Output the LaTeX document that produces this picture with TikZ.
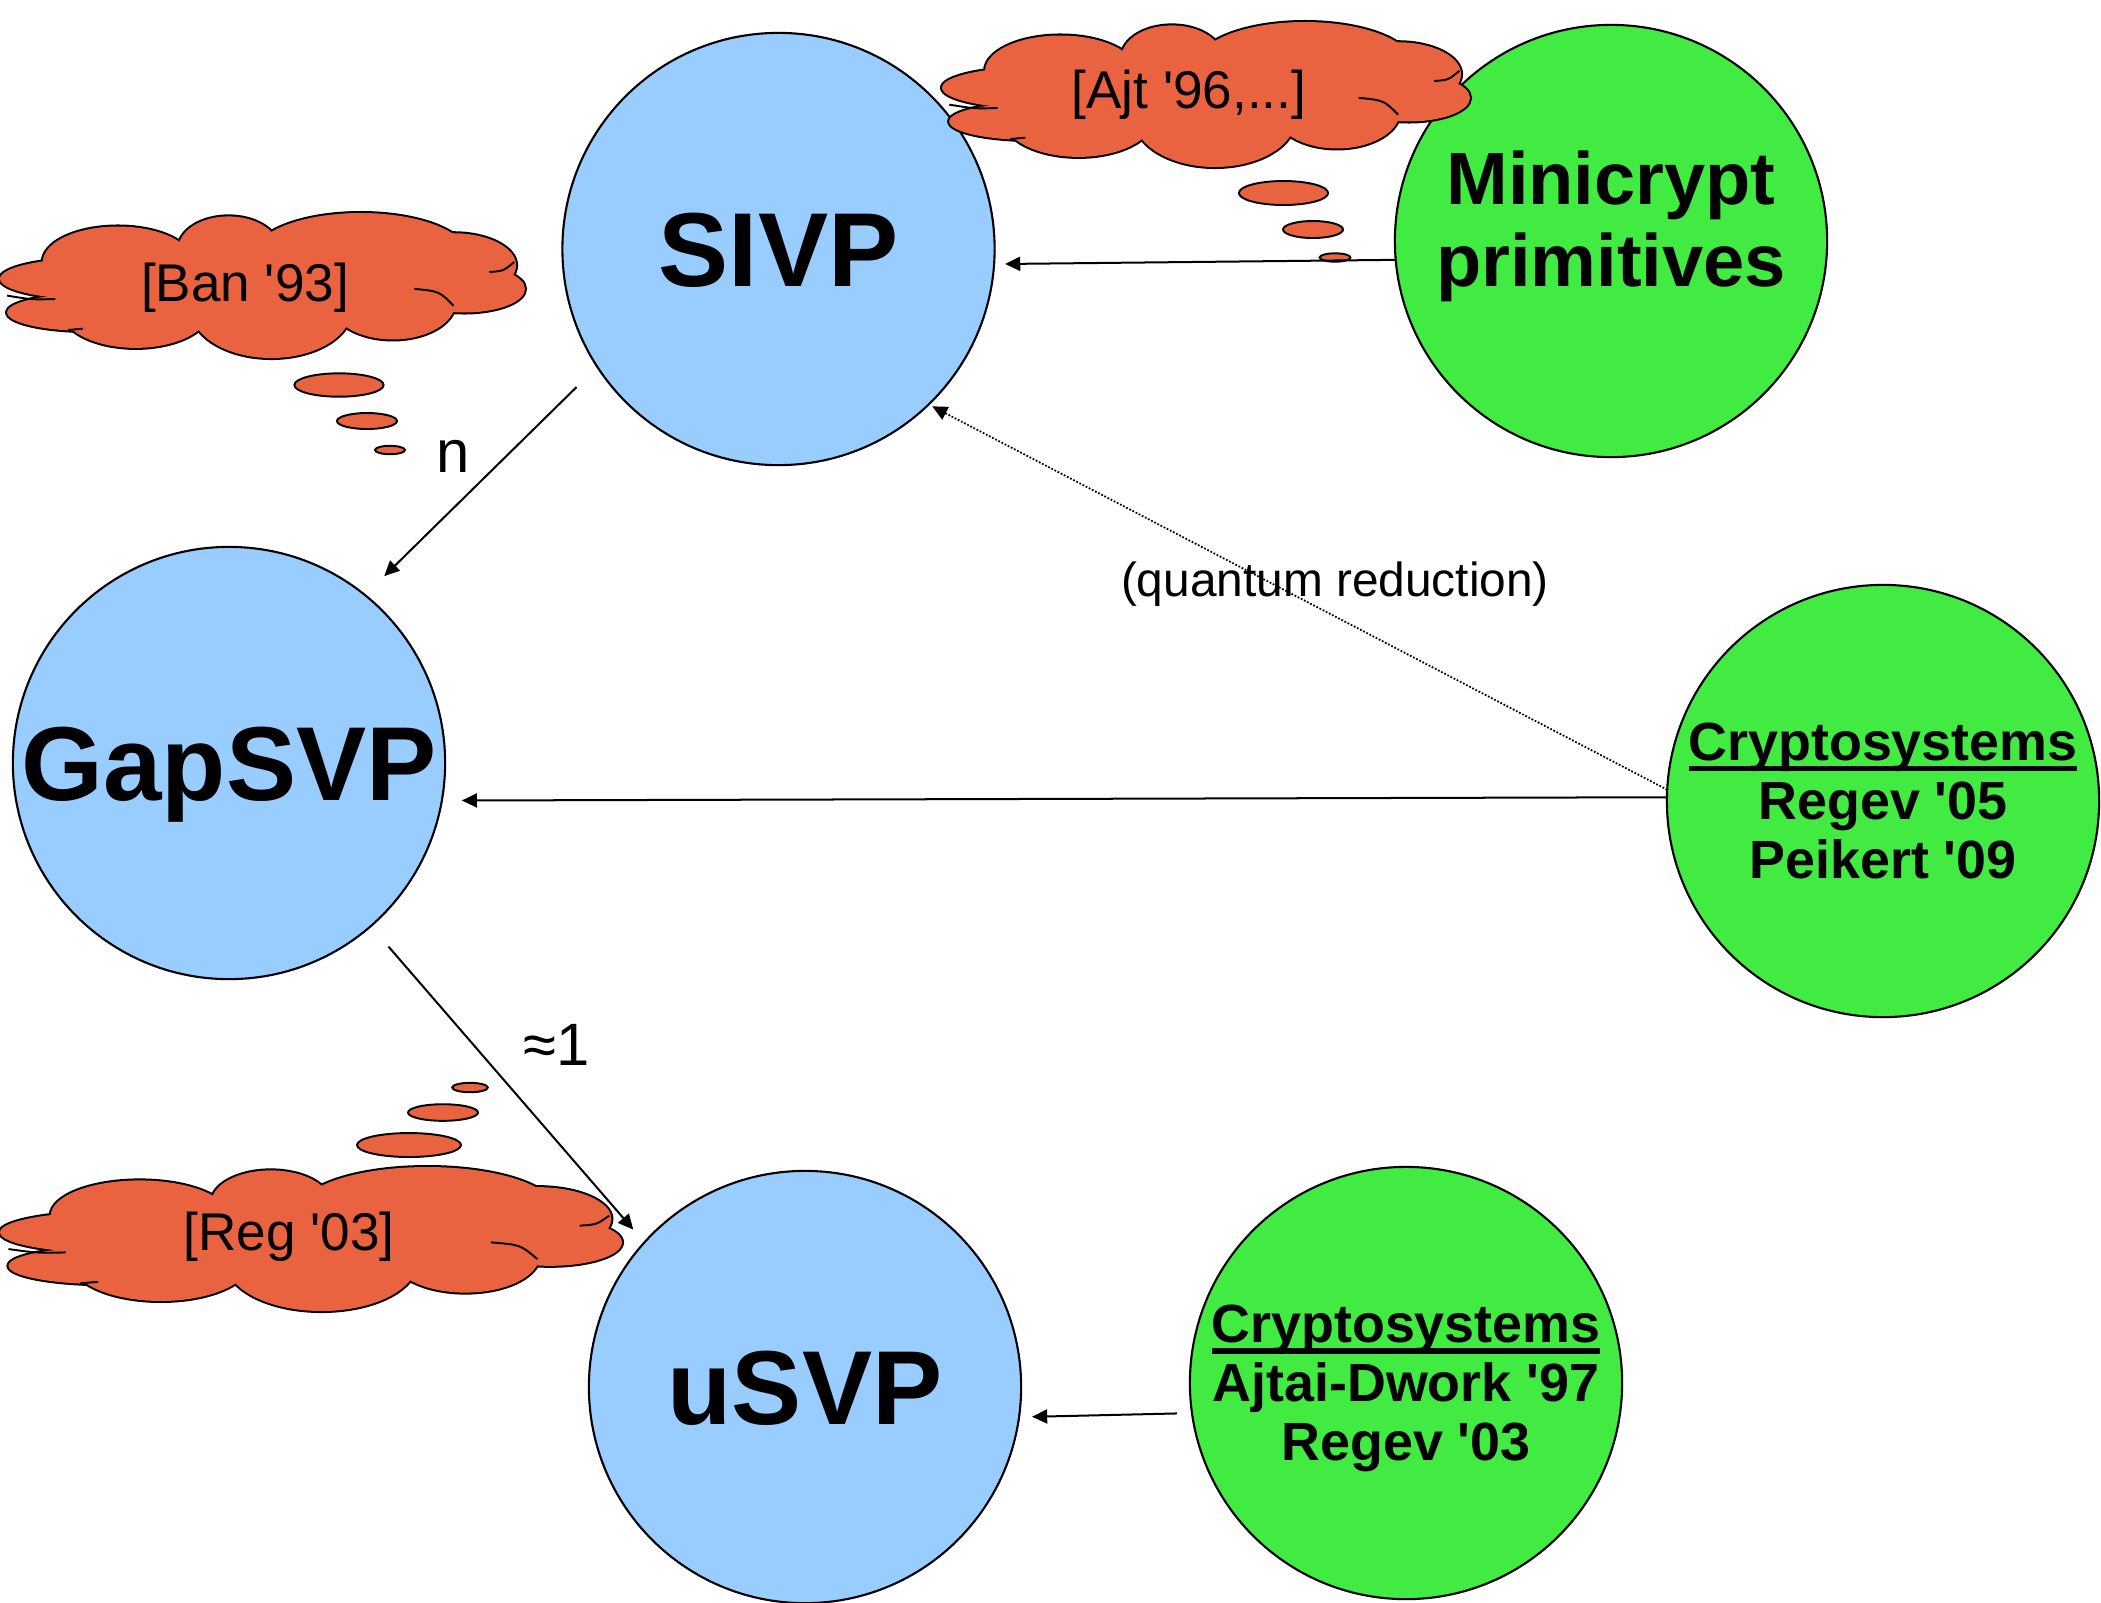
\documentclass[tikz,border=0pt]{standalone}
\usepackage{fontspec}
\newfontfamily\helv{Liberation Sans}
\usetikzlibrary{arrows.meta}

\definecolor{probblue}{RGB}{153,204,255}
\definecolor{primgreen}{RGB}{66,235,66}
\definecolor{cloudred}{RGB}{234,99,65}

% heading with a heavy underline that runs through the descenders
\newcommand{\heading}[1]{\setbox0=\hbox{#1}\rlap{\rule[-3.1pt]{\wd0}{1.5pt}}\box0}

% Lobes of a thought cloud, in a 1470 x 430 box (y pointing down)
\newcommand{\cloudlobes}{270/195/270/62, 250/295/230/55, 330/145/210/105,
  640/105/140/95, 1010/125/300/125, 1270/155/175/95, 1300/225/170/70,
  1100/265/175/110, 760/285/225/145, 380/285/210/115}

% \thoughtcloud{left}{top}{width}{height}
\newcommand{\thoughtcloud}[4]{%
  \begin{scope}[shift={(#1,#2)}, xscale=#3/1470, yscale=#4/430]
    \foreach \cx/\cy/\rx/\ry in \cloudlobes
      {\filldraw[fill=cloudred, draw=black, line width=1.15pt]
         (\cx,\cy) ellipse [x radius=\rx, y radius=\ry];}
    \foreach \cx/\cy/\rx/\ry in \cloudlobes
      {\fill[cloudred] (\cx,\cy) ellipse [x radius=\rx, y radius=\ry];}
    % core of the cloud, closes the gaps between the lobes
    \fill[cloudred] (735,215) ellipse [x radius=560, y radius=110];
    \draw[line width=0.55pt] (1160,225) .. controls (1230,232) .. (1270,275);
    \draw[line width=0.55pt] (1370,175) .. controls (1410,172) .. (1440,145);
    \draw[line width=0.55pt] (155,255) .. controls (90,257) .. (20,245);
    \draw[line width=0.55pt] (190,347) -- (232,343);
  \end{scope}}

\begin{document}
\begin{tikzpicture}[x=0.01cm, y=-0.01cm,
  problem/.style={circle, draw=black, line width=0.6pt, fill=probblue,
    minimum size=4.32cm, inner sep=0pt, outer sep=0pt,
    font=\helv\fontsize{29.9}{33}\selectfont\bfseries,
    text height=21.4pt, text depth=0pt},
  primitive/.style={circle, draw=black, line width=0.6pt, fill=primgreen,
    minimum size=4.32cm, inner sep=0pt, outer sep=0pt, align=center},
  minifont/.style={font=\helv\fontsize{21.05}{23.3}\selectfont\bfseries},
  cryptofont/.style={font=\helv\fontsize{15.3}{16.8}\selectfont\bfseries},
  reduction/.style={line width=0.57pt, -{Triangle[length=4.3pt,width=4pt]}},
  quantum/.style={line width=0.5pt, dash pattern=on 0.5pt off 0.5pt,
    -{Triangle[length=4.3pt,width=4pt]}},
  bubble/.style={fill=cloudred, draw=black, line width=0.55pt},
  cloudtext/.style={inner sep=0pt, font=\helv\fontsize{15.1}{18}\selectfont},
  edgelabel/.style={inner sep=0pt, font=\helv\fontsize{17}{20}\selectfont},
  qlabel/.style={inner sep=0pt, font=\helv\fontsize{13.6}{16}\selectfont}]

\useasboundingbox (0,0) rectangle (2101,1602);

% lattice problems
\node[problem] (sivp)   at (778.5,249) {SIVP};
\node[problem] (gapsvp) at (229,763)   {GapSVP};
\node[problem] (usvp)   at (805,1387)  {uSVP};

% cryptographic applications
\node[primitive, minifont] (mini) at (1611,241)
  {Minicrypt\\primitives\rule[-12.8pt]{0pt}{12.8pt}};
\node[primitive, cryptofont] (regev) at (1883,801)
  {\heading{Cryptosystems}\\Regev '05\\Peikert '09};
\node[primitive, cryptofont] (ajtai) at (1406,1383)
  {\heading{Cryptosystems}\\Ajtai-Dwork '97\\\raisebox{0pt}[\height][0pt]{Regev '03}};

% thought clouds with their trailing bubbles
\thoughtcloud{942}{22}{528}{145}
\fill[bubble] (1283.5,193) ellipse [x radius=44.6, y radius=12];
\fill[bubble] (1313,229.5) ellipse [x radius=30, y radius=8.5];
\fill[bubble] (1335,257.5) ellipse [x radius=15.4, y radius=4.2];

\thoughtcloud{0}{213}{525}{145}
\fill[bubble] (339,385) ellipse [x radius=44.6, y radius=11.7];
\fill[bubble] (367,421) ellipse [x radius=30, y radius=8];
\fill[bubble] (390,450) ellipse [x radius=15, y radius=4.2];

\thoughtcloud{0}{1167}{622}{144}
\fill[bubble] (409,1145) ellipse [x radius=52, y radius=12];
\fill[bubble] (443,1112.5) ellipse [x radius=35, y radius=8.3];
\fill[bubble] (470,1087.5) ellipse [x radius=17.8, y radius=4.7];

% reductions
\draw[reduction, shorten >=0.11cm] (mini.185.85) -- (sivp.356.3);
\draw[reduction, shorten <=0.29cm, shorten >=0.27cm] (sivp.213.1) -- (gapsvp.51);
\draw[reduction, shorten <=0.27cm, shorten >=0.17cm] (gapsvp.311.2) -- (usvp.138.7);
\draw[reduction, shorten >=0.20cm] (regev.179.5) -- (gapsvp.350.4);
\draw[quantum, shorten >=0.04cm] (regev.177.4) -- (sivp.314.7);
\draw[reduction, shorten <=0.15cm, shorten >=0.13cm] (ajtai.188.25) -- (usvp.352.8);

% labels
\node[edgelabel] (nlab)   at (453,456)  {n};
\node[edgelabel] (approx) at (557,1045) {≈1};
\node[qlabel]    (qlab)   at (1335,584) {(quantum reduction)};
\node[cloudtext] (ajt) at (1189,95)  {[Ajt '96,...]};
\node[cloudtext] (ban) at (245,288)  {[Ban '93]};
\node[cloudtext] (reg) at (289,1237) {[Reg '03]};
\end{tikzpicture}
\end{document}
